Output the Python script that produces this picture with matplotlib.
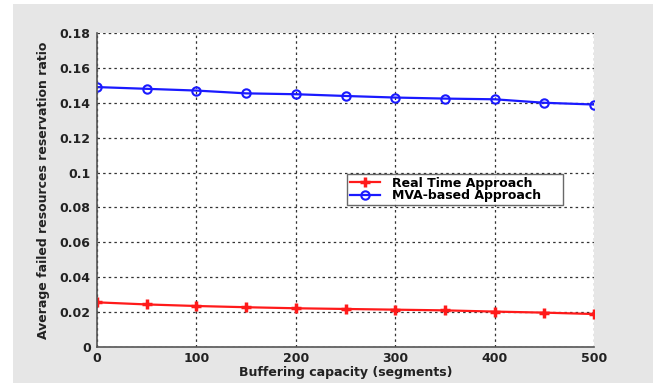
import matplotlib.pyplot as plt
from matplotlib.patches import Rectangle

buffer_sizes = [0, 50, 100, 150, 200, 250, 300, 350, 400, 450, 500]
real_time = [0.0256, 0.0244, 0.0235, 0.0228, 0.0222, 0.0218, 0.0214, 0.0210, 0.0203, 0.0197, 0.0189]
mva_based = [0.1490, 0.1480, 0.1470, 0.1454, 0.1449, 0.1439, 0.1430, 0.1424, 0.1420, 0.1400, 0.1390]
y_ticks = [0, 0.02, 0.04, 0.06, 0.08, 0.1, 0.12, 0.14, 0.16, 0.18]
y_tick_labels = ["0", "0.02", "0.04", "0.06", "0.08", "0.1", "0.12", "0.14", "0.16", "0.18"]
x_ticks = [0, 100, 200, 300, 400, 500]

plt.rcParams["font.family"] = ["DejaVu Sans"]
plt.rcParams["font.weight"] = "bold"
FS = 9

W, H = 657, 383
fig = plt.figure(figsize=(W / 100, H / 100), dpi=100)
fig.patch.set_facecolor("white")
# gray panel behind the axes (white strip on the left and top)
fig.add_artist(Rectangle((13 / W, 0), (653 - 13) / W, (383 - 4) / H,
                         transform=fig.transFigure, facecolor="#e6e6e6",
                         edgecolor="none", zorder=-10))

ax = fig.add_axes([97 / W, 1 - 347 / H, (594 - 97) / W, (347 - 33) / H])
ax.set_facecolor("white")

ax.plot(buffer_sizes, real_time, color="#ff1a1a", linewidth=1.6, marker="+",
        markersize=7, markeredgewidth=2.5, label="Real Time Approach")
ax.plot(buffer_sizes, mva_based, color="#1a1aff", linewidth=1.6, marker="o",
        markersize=6, markerfacecolor="none", markeredgewidth=1.5,
        label="MVA-based Approach")

ax.set_xlim(0, 500)
ax.set_ylim(0, 0.18)
ax.set_xticks(x_ticks)
ax.set_yticks(y_ticks)
ax.set_yticklabels(y_tick_labels)
ax.tick_params(labelsize=FS, length=0, colors="#222222")
ax.tick_params(axis="x", pad=3.5)
ax.tick_params(axis="y", pad=4.5)
ax.grid(True, color="#333333", linestyle=(0, (2, 2.5)), linewidth=0.9)

for side in ["top", "right"]:
    ax.spines[side].set_visible(False)
for side in ["left", "bottom"]:
    ax.spines[side].set_color("#555555")
    ax.spines[side].set_linewidth(1.2)

ax.set_xlabel("Buffering capacity (segments)", fontsize=FS, fontweight="bold",
              labelpad=1, color="#222222")
ax.set_ylabel("Average failed resources reservation ratio", fontsize=FS,
              fontweight="bold", labelpad=7, color="#222222")

# legend box spans roughly x 347..563, y 174..206 in pixels
aw, ah = 594 - 97, 347 - 33
lx0, lx1 = (347 - 97) / aw, (563 - 97) / aw
ly1 = 1 - (174 - 33) / ah
leg = ax.legend(loc="upper left", bbox_to_anchor=(lx0, ly1 - 0.1, lx1 - lx0, 0.1),
                mode="expand", fontsize=FS, frameon=True, fancybox=False,
                borderpad=0.2, labelspacing=0.0, handlelength=2.4,
                handletextpad=1.0, borderaxespad=0)
leg.get_frame().set_edgecolor("#444444")
leg.get_frame().set_linewidth(1.0)

fig.savefig("out.png", dpi=100)
